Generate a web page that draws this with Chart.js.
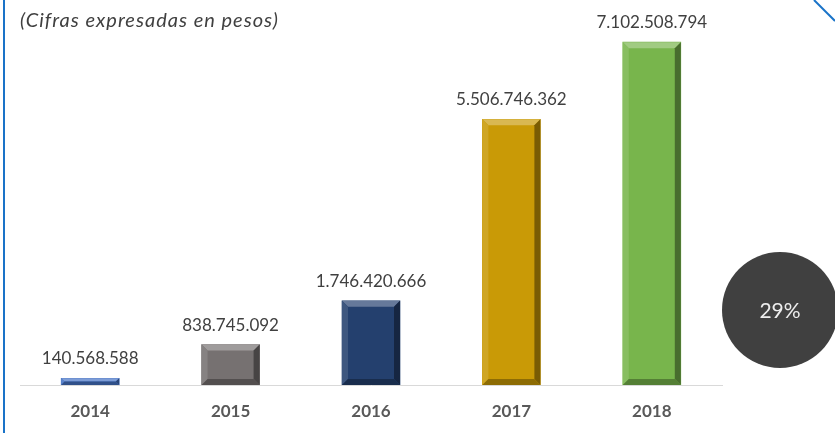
<!DOCTYPE html>
<html>
<head>
<meta charset="utf-8">
<script src="https://cdn.jsdelivr.net/npm/chart.js@4"></script>
<style>
  html, body { margin: 0; padding: 0; background: #fff; }
  #wrap { width: 835px; height: 433px; position: relative; }
</style>
</head>
<body>
<div id="wrap"><canvas id="chart" width="835" height="433"></canvas></div>
<script>
const years = ['2014', '2015', '2016', '2017', '2018'];
const amounts = [140568588, 838745092, 1746420666, 5506746362, 7102508794];
const barColors = ['#4472C4', '#767171', '#24406E', '#C99A06', '#78B54C'];
const subtitle = '(Cifras expresadas en pesos)';
const growthText = '29%';

function fmt(v) {
  return String(v).replace(/\B(?=(\d{3})+(?!\d))/g, '.');
}

function shade(hex, amt) {
  let n = parseInt(hex.slice(1), 16);
  let r = n >> 16, g = (n >> 8) & 255, b = n & 255;
  const f = c => Math.max(0, Math.min(255, Math.round(amt > 0 ? c + (255 - c) * amt : c * (1 + amt))));
  return `rgb(${f(r)},${f(g)},${f(b)})`;
}

// bevel look + value labels on the bars
const bevelPlugin = {
  id: 'bevel',
  afterDatasetsDraw(chart) {
    const ctx = chart.ctx;
    const meta = chart.getDatasetMeta(0);
    meta.data.forEach((bar, i) => {
      const p = bar.getProps(['x', 'y', 'base', 'width'], true);
      const l = p.x - p.width / 2, r = p.x + p.width / 2, t = p.y, b = p.base;
      const h = b - t;
      const bv = Math.min(6, h / 2, p.width / 2);
      const c = barColors[i];
      ctx.save();
      // top
      ctx.fillStyle = shade(c, 0.3);
      ctx.beginPath(); ctx.moveTo(l, t); ctx.lineTo(r, t); ctx.lineTo(r - bv, t + bv); ctx.lineTo(l + bv, t + bv); ctx.closePath(); ctx.fill();
      // left
      ctx.fillStyle = shade(c, 0.12);
      ctx.beginPath(); ctx.moveTo(l, t); ctx.lineTo(l + bv, t + bv); ctx.lineTo(l + bv, b - bv); ctx.lineTo(l, b); ctx.closePath(); ctx.fill();
      // right
      ctx.fillStyle = shade(c, -0.4);
      ctx.beginPath(); ctx.moveTo(r, t); ctx.lineTo(r - bv, t + bv); ctx.lineTo(r - bv, b - bv); ctx.lineTo(r, b); ctx.closePath(); ctx.fill();
      // bottom
      ctx.fillStyle = shade(c, -0.3);
      ctx.beginPath(); ctx.moveTo(l, b); ctx.lineTo(r, b); ctx.lineTo(r - bv, b - bv); ctx.lineTo(l + bv, b - bv); ctx.closePath(); ctx.fill();

      // value label
      ctx.fillStyle = '#404040';
      ctx.font = '17px Lato';
      ctx.textAlign = 'center';
      ctx.textBaseline = 'alphabetic';
      ctx.fillText(fmt(amounts[i]), p.x, t - 14);
      ctx.restore();
    });
  }
};

// subtitle, frame lines and growth bubble
const decoPlugin = {
  id: 'deco',
  afterDraw(chart) {
    const ctx = chart.ctx;
    ctx.save();
    ctx.fillStyle = '#404040';
    ctx.font = 'italic 20px Lato';
    ctx.letterSpacing = '1px';
    ctx.textAlign = 'left';
    ctx.textBaseline = 'middle';
    ctx.fillText(subtitle, 20, 21);
    ctx.letterSpacing = '0px';

    ctx.strokeStyle = '#1A73C8';
    ctx.lineWidth = 2;
    ctx.beginPath(); ctx.moveTo(4, 0); ctx.lineTo(4, 433); ctx.stroke();
    ctx.beginPath(); ctx.moveTo(814, 0); ctx.lineTo(835, 21); ctx.stroke();

    ctx.fillStyle = '#404040';
    ctx.beginPath(); ctx.arc(780, 310, 58, 0, Math.PI * 2); ctx.fill();
    ctx.fillStyle = '#EDEDED';
    ctx.font = '21px Lato';
    ctx.textAlign = 'center';
    ctx.fillText(growthText, 780, 311);
    ctx.restore();
  }
};

new Chart(document.getElementById('chart'), {
  type: 'bar',
  data: {
    labels: years,
    datasets: [{
      data: amounts,
      backgroundColor: barColors,
      borderWidth: 0,
      barThickness: 58
    }]
  },
  options: {
    responsive: false,
    animation: false,
    layout: { padding: { left: 20, right: 113, top: 23, bottom: 0 } },
    plugins: { legend: { display: false }, tooltip: { enabled: false } },
    scales: {
      x: {
        grid: { display: false, drawTicks: false },
        border: { display: true, color: '#D9D9D9', width: 1 },
        ticks: { color: '#595959', font: { family: 'Lato', size: 17, weight: 'bold' }, padding: 16 },
        afterFit(scale) { scale.height = 48; }
      },
      y: { display: false, min: 0, max: 7500000000 }
    }
  },
  plugins: [bevelPlugin, decoPlugin]
});
</script>
</body>
</html>
